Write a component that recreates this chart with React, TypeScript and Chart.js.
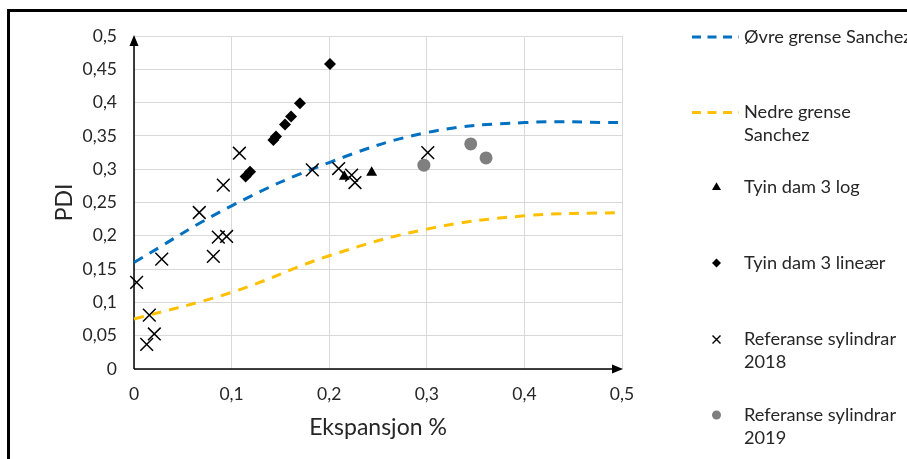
import React, { useEffect, useRef } from "react";
import { Chart, registerables } from "chart.js";

Chart.register(...registerables);

// ---------- data ----------
const seriesNames = [
  ["Øvre grense Sanchez"],
  ["Nedre grense", "Sanchez"],
  ["Tyin dam 3 log"],
  ["Tyin dam 3 lineær"],
  ["Referanse sylindrar", "2018"],
  ["Referanse sylindrar", "2019"],
];

const sanchezX = [0, 0.1, 0.2, 0.3, 0.4, 0.5];
const upperSanchez = [0.16, 0.245, 0.31, 0.355, 0.37, 0.37];
const lowerSanchez = [0.075, 0.115, 0.17, 0.21, 0.23, 0.235];

const tyinLogX = [0.2155, 0.2435];
const tyinLogY = [0.289, 0.295];

const tyinLinX = [0.1144, 0.1189, 0.1428, 0.1455, 0.1547, 0.1609, 0.17, 0.2008];
const tyinLinY = [0.289, 0.296, 0.344, 0.349, 0.367, 0.379, 0.399, 0.458];

const ref2018X = [0.0027, 0.013, 0.0157, 0.0208, 0.0284, 0.0669, 0.0813, 0.0864, 0.0949, 0.0915, 0.108, 0.1827, 0.2097, 0.223, 0.2264, 0.301];
const ref2018Y = [0.13, 0.037, 0.081, 0.0526, 0.165, 0.235, 0.169, 0.198, 0.199, 0.276, 0.324, 0.299, 0.301, 0.291, 0.28, 0.325];

const ref2019X = [0.297, 0.345, 0.3607];
const ref2019Y = [0.306, 0.338, 0.317];

const xAxisTitle = "Ekspansjon %";
const yAxisTitle = "PDI";

// ---------- helpers ----------
const pts = (xs: number[], ys: number[]) => xs.map((x, i) => ({ x, y: ys[i] }));
const fmt = (v: number) => String(Math.round(Number(v) * 100) / 100).replace(".", ",");

const FONT = "Lato";
const TEXT = "#262626";
const BLUE = "#0070C0";
const GOLD = "#FFC000";
const GREY = "#7F7F7F";

const extrasPlugin = {
  id: "extras",
  beforeDatasetsDraw(chart: any) {
    const { ctx, scales } = chart;
    const xs = scales.x, ys = scales.y;
    const x0 = xs.getPixelForValue(0);
    const y0 = ys.getPixelForValue(0);
    const xEnd = xs.getPixelForValue(0.5);
    const yTop = ys.getPixelForValue(0.5);
    ctx.save();
    ctx.strokeStyle = "#000";
    ctx.fillStyle = "#000";
    ctx.lineWidth = 1.5;
    // y axis with arrow
    ctx.beginPath();
    ctx.moveTo(x0, y0);
    ctx.lineTo(x0, yTop + 6);
    ctx.stroke();
    ctx.beginPath();
    ctx.moveTo(x0, yTop - 1);
    ctx.lineTo(x0 - 4.5, yTop + 10);
    ctx.lineTo(x0 + 4.5, yTop + 10);
    ctx.closePath();
    ctx.fill();
    // x axis with arrow
    ctx.beginPath();
    ctx.moveTo(x0, y0);
    ctx.lineTo(xEnd - 6, y0);
    ctx.stroke();
    ctx.beginPath();
    ctx.moveTo(xEnd + 1, y0);
    ctx.lineTo(xEnd - 10, y0 - 4.5);
    ctx.lineTo(xEnd - 10, y0 + 4.5);
    ctx.closePath();
    ctx.fill();
    ctx.restore();
  },
  afterDraw(chart: any) {
    const { ctx } = chart;
    ctx.save();
    ctx.font = `18.2px ${FONT}`;
    ctx.fillStyle = TEXT;
    ctx.textBaseline = "middle";
    ctx.textAlign = "left";
    const textX = 744;
    const markX = 716.5;
    const rows = [37, 112.5, 187.5, 263, 339.5, 415];
    const lineGap = 22.7;
    seriesNames.forEach((lines, i) => {
      const cy = rows[i];
      lines.forEach((t, k) => ctx.fillText(t, textX, cy + k * lineGap));
      ctx.save();
      if (i === 0 || i === 1) {
        ctx.strokeStyle = i === 0 ? BLUE : GOLD;
        ctx.lineWidth = 3;
        ctx.setLineDash([9, 6.5]);
        ctx.beginPath();
        ctx.moveTo(692, cy);
        ctx.lineTo(739, cy);
        ctx.stroke();
      } else if (i === 2) {
        ctx.fillStyle = "#000";
        const r = 5.2;
        ctx.beginPath();
        ctx.moveTo(markX, cy - r);
        ctx.lineTo(markX + 0.866 * r, cy + 0.5 * r);
        ctx.lineTo(markX - 0.866 * r, cy + 0.5 * r);
        ctx.closePath();
        ctx.fill();
      } else if (i === 3) {
        ctx.fillStyle = "#000";
        const r = 4.5;
        ctx.beginPath();
        ctx.moveTo(markX - r, cy);
        ctx.lineTo(markX, cy - r);
        ctx.lineTo(markX + r, cy);
        ctx.lineTo(markX, cy + r);
        ctx.closePath();
        ctx.fill();
      } else if (i === 4) {
        ctx.strokeStyle = "#000";
        ctx.lineWidth = 1.4;
        const h = 4;
        ctx.beginPath();
        ctx.moveTo(markX - h, cy - h);
        ctx.lineTo(markX + h, cy + h);
        ctx.moveTo(markX + h, cy - h);
        ctx.lineTo(markX - h, cy + h);
        ctx.stroke();
      } else {
        ctx.fillStyle = GREY;
        ctx.beginPath();
        ctx.arc(markX, cy, 4.5, 0, Math.PI * 2);
        ctx.fill();
      }
      ctx.restore();
    });
    ctx.restore();
  },
};

export default function App() {
  const ref = useRef<HTMLCanvasElement>(null);

  useEffect(() => {
    if (!ref.current) return;
    const chart = new Chart(ref.current, {
      type: "scatter",
      data: {
        datasets: [
          {
            label: seriesNames[0].join(" "),
            data: pts(sanchezX, upperSanchez),
            showLine: true,
            borderColor: BLUE,
            borderWidth: 3,
            borderDash: [10, 8],
            pointRadius: 0,
            tension: 0.4,
            fill: false,
            order: 10,
            clip: false,
          } as any,
          {
            label: seriesNames[1].join(" "),
            data: pts(sanchezX, lowerSanchez),
            showLine: true,
            borderColor: GOLD,
            borderWidth: 3,
            borderDash: [10, 8],
            pointRadius: 0,
            tension: 0.4,
            fill: false,
            order: 10,
            clip: false,
          } as any,
          {
            label: seriesNames[2].join(" "),
            data: pts(tyinLogX, tyinLogY),
            pointStyle: "triangle",
            pointRadius: 6.3,
            backgroundColor: "#000",
            borderColor: "#000",
            borderWidth: 0,
            order: 1,
            clip: false,
          } as any,
          {
            label: seriesNames[3].join(" "),
            data: pts(tyinLinX, tyinLinY),
            pointStyle: "rectRot",
            pointRadius: 6,
            backgroundColor: "#000",
            borderColor: "#000",
            borderWidth: 0,
            order: 1,
            clip: false,
          } as any,
          {
            label: seriesNames[4].join(" "),
            data: pts(ref2018X, ref2018Y),
            pointStyle: "crossRot",
            pointRadius: 9,
            backgroundColor: "#000",
            borderColor: "#000",
            borderWidth: 1.5,
            order: 1,
            clip: false,
          } as any,
          {
            label: seriesNames[5].join(" "),
            data: pts(ref2019X, ref2019Y),
            pointStyle: "circle",
            pointRadius: 6.5,
            backgroundColor: GREY,
            borderColor: GREY,
            borderWidth: 0,
            order: 1,
            clip: false,
          } as any,
        ],
      },
      options: {
        responsive: false,
        animation: false,
        devicePixelRatio: 1,
        layout: { padding: { left: 0, top: 36, right: 285, bottom: 0 } },
        plugins: {
          legend: { display: false },
          tooltip: { enabled: false },
        },
        scales: {
          x: {
            type: "linear",
            min: 0,
            max: 0.5,
            border: { display: false },
            grid: { color: "#D9D9D9", lineWidth: 1, drawTicks: false },
            ticks: {
              stepSize: 0.1,
              padding: 15,
              color: TEXT,
              font: { family: FONT, size: 17.5 },
              callback: (v: any) => fmt(v),
            },
            title: {
              display: true,
              text: xAxisTitle,
              color: TEXT,
              font: { family: FONT, size: 23 },
              padding: { top: 0, bottom: 18 },
            },
            afterFit: (s: any) => {
              s.height = 90;
            },
          },
          y: {
            type: "linear",
            min: 0,
            max: 0.5,
            border: { display: false },
            grid: { color: "#D9D9D9", lineWidth: 1, drawTicks: false },
            ticks: {
              stepSize: 0.05,
              padding: 17,
              autoSkip: false,
              color: TEXT,
              font: { family: FONT, size: 17.5 },
              callback: (v: any) => fmt(v),
            },
            title: {
              display: true,
              text: yAxisTitle,
              color: TEXT,
              font: { family: FONT, size: 23 },
              padding: { top: 50.5, bottom: 0 },
            },
            afterFit: (s: any) => {
              s.width = 134;
            },
          },
        },
      } as any,
      plugins: [extrasPlugin],
    });
    return () => chart.destroy();
  }, []);

  return (
    <div
      style={{
        position: "fixed",
        left: 0,
        top: 0,
        width: 907,
        height: 459,
        overflow: "hidden",
        background: "#fff",
      }}
    >
      <canvas ref={ref} width={907} height={459} style={{ position: "absolute", left: 0, top: 0, width: 907, height: 459 }} />
      <div
        style={{
          position: "absolute",
          left: 7,
          top: 9,
          width: 1100,
          height: 700,
          border: "3px solid #000",
          pointerEvents: "none",
        }}
      />
    </div>
  );
}
